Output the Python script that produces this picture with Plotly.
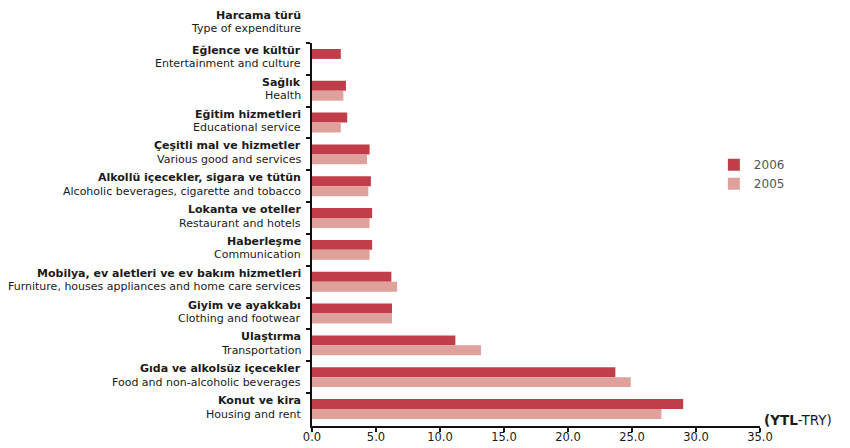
import plotly.graph_objects as go

categories_tr = ["Eğlence ve kültür", "Sağlık", "Eğitim hizmetleri", "Çeşitli mal ve hizmetler",
                 "Alkollü içecekler, sigara ve tütün", "Lokanta ve oteller", "Haberleşme",
                 "Mobilya, ev aletleri ve ev bakım hizmetleri", "Giyim ve ayakkabı", "Ulaştırma",
                 "Gıda ve alkolsüz içecekler", "Konut ve kira"]
categories_en = ["Entertainment and culture", "Health", "Educational service", "Various good and services",
                 "Alcoholic beverages, cigarette and tobacco", "Restaurant and hotels", "Communication",
                 "Furniture, houses appliances and home care services", "Clothing and footwear",
                 "Transportation", "Food and non-alcoholic beverages", "Housing and rent"]
values_2006 = [2.25, 2.65, 2.75, 4.5, 4.6, 4.7, 4.7, 6.2, 6.25, 11.2, 23.7, 29.0]
values_2005 = [None, 2.45, 2.25, 4.3, 4.4, 4.5, 4.5, 6.65, 6.25, 13.2, 24.9, 27.3]
x_ticks = [0, 5, 10, 15, 20, 25, 30, 35]

FONT = "DejaVu Sans"
TXT = "#1a1a1a"
fig = go.Figure()
fig.add_trace(go.Bar(y=categories_en, x=values_2006, orientation="h", name="2006",
                     marker=dict(color="#c03e4a", line=dict(width=0))))
fig.add_trace(go.Bar(y=categories_en, x=values_2005, orientation="h", name="2005",
                     marker=dict(color="#e0a19d", line=dict(width=0))))

annotations = []
for tr, en in zip(categories_tr, categories_en):
    annotations.append(dict(x=0, xref="paper", y=en, yref="y", text="<b>" + tr + "</b>",
                            xanchor="right", yanchor="middle", xshift=-9, yshift=8.5,
                            showarrow=False, font=dict(family=FONT, size=11, color=TXT)))
    annotations.append(dict(x=0, xref="paper", y=en, yref="y", text=en,
                            xanchor="right", yanchor="middle", xshift=-9, yshift=-5,
                            showarrow=False, font=dict(family=FONT, size=11, color=TXT)))
annotations.append(dict(x=0, xref="paper", y=1, yref="paper", text="<b>Harcama türü</b>",
                        xanchor="right", yanchor="middle", xshift=-9, yshift=28,
                        showarrow=False, font=dict(family=FONT, size=11, color=TXT)))
annotations.append(dict(x=0, xref="paper", y=1, yref="paper", text="Type of expenditure",
                        xanchor="right", yanchor="middle", xshift=-9, yshift=15,
                        showarrow=False, font=dict(family=FONT, size=11, color=TXT)))
annotations.append(dict(x=1, xref="paper", y=0, yref="paper", text="<b>(YTL</b>-TRY)",
                        xanchor="left", yanchor="middle", xshift=2, yshift=6,
                        showarrow=False, font=dict(family=FONT, size=13.5, color=TXT)))

fig.update_layout(
    width=850, height=448,
    margin=dict(l=304, r=98, t=35, b=12),
    paper_bgcolor="white", plot_bgcolor="white",
    barmode="group", bargap=0.375, bargroupgap=0,
    font=dict(family=FONT, size=11, color=TXT),
    showlegend=True,
    legend=dict(x=0.897, y=0.72, xanchor="left", yanchor="top",
                font=dict(family=FONT, size=12, color="#555555"),
                bgcolor="rgba(0,0,0,0)", itemwidth=30, tracegroupgap=0),
    xaxis=dict(range=[0, 35], tickvals=x_ticks, tickformat=".1f", showgrid=False, zeroline=False,
               showline=True, linecolor="#111111", linewidth=2, ticks="outside", ticklen=4,
               tickwidth=2, tickcolor="#111111", ticklabelstandoff=-5, automargin=True,
               tickfont=dict(family=FONT, size=11.5, color=TXT)),
    yaxis=dict(type="category", categoryorder="array", categoryarray=categories_en,
               autorange="reversed", showticklabels=False, showgrid=False, zeroline=False,
               showline=True, linecolor="#111111", linewidth=2, ticks="outside", ticklen=4,
               tickwidth=2, tickcolor="#111111", tickson="boundaries", automargin=False),
    annotations=annotations,
)
fig.write_html("out.html")
